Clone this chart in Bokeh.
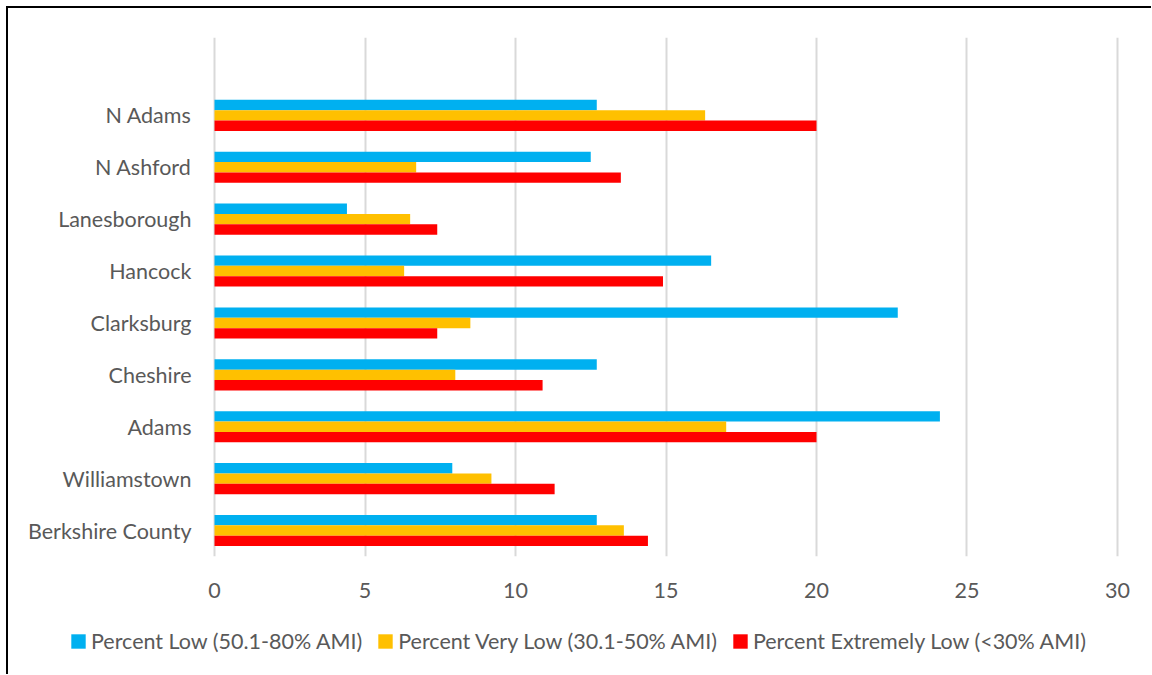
from bokeh.plotting import figure
from bokeh.layouts import column, row
from bokeh.models import Range1d, FixedTicker, Legend, LegendItem, ColumnDataSource
from bokeh.embed import file_html
from bokeh.resources import INLINE

# Categories, top to bottom as shown
categories = ["N Adams", "N Ashford", "Lanesborough", "Hancock", "Clarksburg",
              "Cheshire", "Adams", "Williamstown", "Berkshire County"]
pct_low = [12.7, 12.5, 4.4, 16.5, 22.7, 12.7, 24.1, 7.9, 12.7]
pct_very_low = [16.3, 6.7, 6.5, 6.3, 8.5, 8.0, 17.0, 9.2, 13.6]
pct_extremely_low = [20.0, 13.5, 7.4, 14.9, 7.4, 10.9, 20.0, 11.3, 14.4]
series_names = ["Percent Low (50.1-80% AMI)",
                "Percent Very Low (30.1-50% AMI)",
                "Percent Extremely Low (<30% AMI)"]
x_ticks = [0, 5, 10, 15, 20, 25, 30]

colors = ["#00B0F0", "#FFC000", "#FF0000"]
FONT = "Lato"
FS = "21.5px"
TEXT_COLOR = "#595959"

n = len(categories)
# numeric position of each category (bottom category at 0); one empty slot on top
pos = [n - 1 - i for i in range(n)]

p = figure(frame_width=909, frame_height=519, output_backend="svg", toolbar_location=None,
           x_range=Range1d(-0.1, 30.1), y_range=Range1d(-0.5, n + 0.5),
           min_border_left=203, min_border_right=31, min_border_top=29,
           min_border_bottom=62)
p.outline_line_color = None
p.background_fill_color = "white"
p.border_fill_color = "white"

bar_h = 0.2
offsets = [bar_h, 0.0, -bar_h]
series = [pct_low, pct_very_low, pct_extremely_low]
sources = []
for vals, off, col in zip(series, offsets, colors):
    src = ColumnDataSource(dict(y=[q + off for q in pos], right=vals))
    sources.append(src)
    p.hbar(y="y", right="right", left=0, height=bar_h, source=src,
           fill_color=col, line_color=None)

# axes
p.xaxis.ticker = FixedTicker(ticks=x_ticks)
p.yaxis.ticker = FixedTicker(ticks=pos)
p.yaxis.major_label_overrides = {q: c for q, c in zip(pos, categories)}
for ax in (p.xaxis[0], p.yaxis[0]):
    ax.axis_line_color = None
    ax.major_tick_line_color = None
    ax.minor_tick_line_color = None
    ax.major_label_text_font = FONT
    ax.major_label_text_font_size = FS
    ax.major_label_text_color = TEXT_COLOR
p.xaxis.major_label_standoff = 20
p.yaxis.major_label_standoff = 14

p.xgrid.ticker = FixedTicker(ticks=x_ticks)
p.xgrid.grid_line_color = "#D9D9D9"
p.xgrid.grid_line_width = 2
p.ygrid.grid_line_color = None

# legend strip under the chart (its ranges keep the bars out of view)
lg = figure(frame_width=1143, frame_height=56, output_backend="svg", toolbar_location=None,
            x_axis_type=None, y_axis_type=None, min_border=0,
            x_range=Range1d(-2, -1), y_range=Range1d(-2, -1))
lg.outline_line_color = None
lg.grid.visible = False
lg.border_fill_color = "white"
lg_renderers = []
for src, col in zip(sources, colors):
    r = lg.hbar(y="y", right="right", left=0, height=bar_h, source=src,
                fill_color=col, line_color=None)
    lg_renderers.append(r)
legend = Legend(items=[LegendItem(label=s, renderers=[r]) for s, r in zip(series_names, lg_renderers)],
                orientation="horizontal", location=(61, 20),
                label_text_font=FONT, label_text_font_size=FS,
                label_text_color=TEXT_COLOR, glyph_width=18, glyph_height=18,
                label_standoff=4, spacing=14, border_line_color=None,
                background_fill_alpha=0, padding=4, margin=0)
lg.add_layout(legend, "center")

layout = column(p, row(lg), spacing=0)
layout.styles = {"margin-left": "6px", "margin-top": "6px",
                 "border-left": "2px solid #000000", "border-top": "2px solid #000000"}

open("out.html", "w").write(file_html(layout, INLINE))
